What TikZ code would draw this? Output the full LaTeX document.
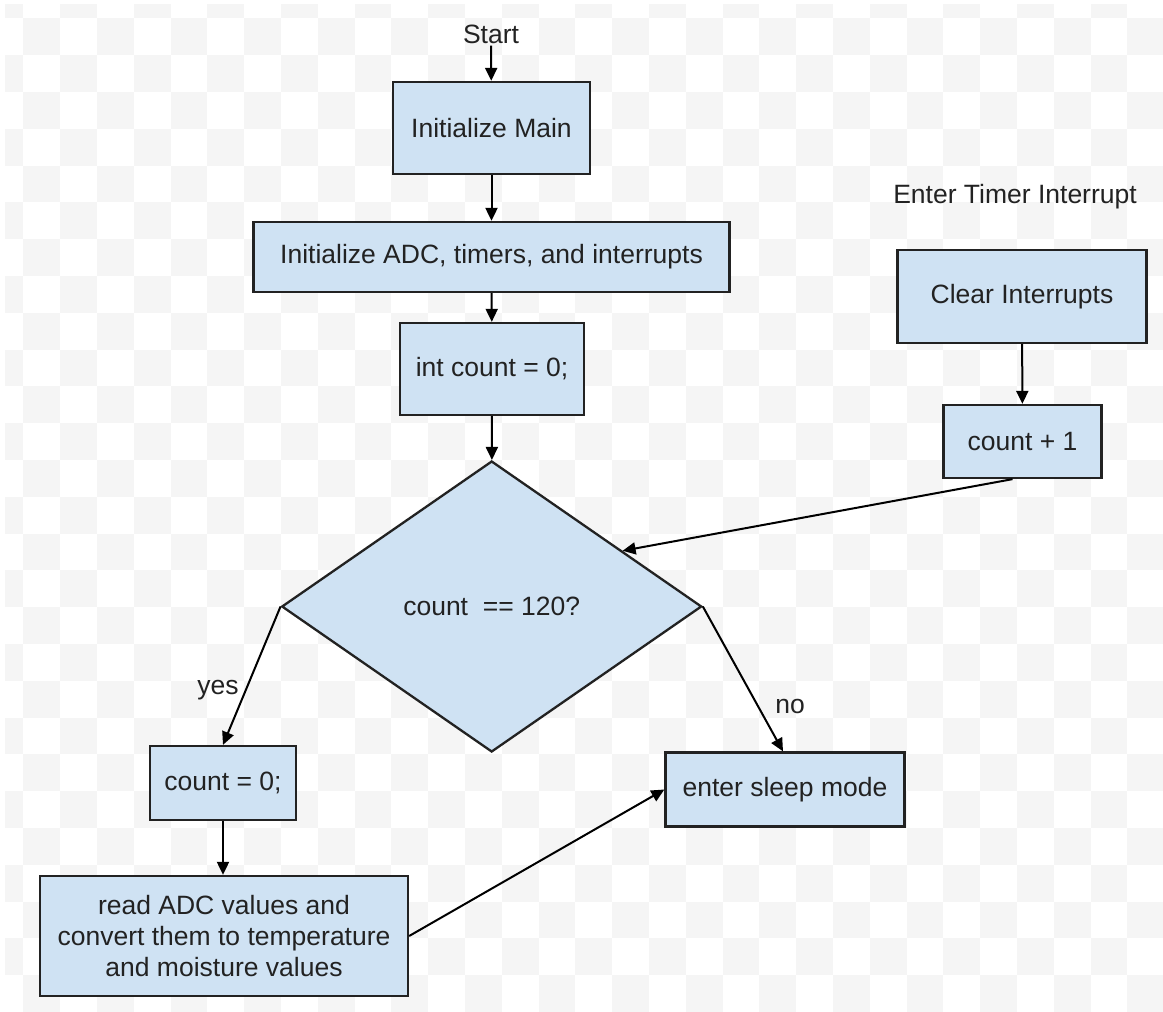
\documentclass[tikz,border=0pt]{standalone}
\usepackage{fontspec}
\setmainfont{Liberation Sans}
\usetikzlibrary{arrows.meta,shapes.geometric,calc}
\definecolor{boxfill}{HTML}{CFE2F3}
\definecolor{boxline}{HTML}{222222}
\definecolor{txt}{HTML}{222222}
\definecolor{checker}{HTML}{F5F5F5}
\tikzset{
  base/.style={font=\fontsize{26.5}{31}\selectfont, text=txt},
  procbox/.style={base, draw=boxline, fill=boxfill, line width=2.3pt, inner sep=0pt, align=center},
  decbox/.style={base, diamond, draw=boxline, fill=boxfill, line width=2.3pt, inner sep=0pt},
  lbl/.style={base, inner sep=2pt},
  flow/.style={draw=black, line width=2pt, -{Triangle[length=13pt,width=12pt]}},
}
\begin{document}
\begin{tikzpicture}[x=1pt,y=-1pt]
\useasboundingbox (0,0) rectangle (1163,1012);
\fill[white] (0,0) rectangle (1163,1012);
\begin{scope}
  \clip (5,4) rectangle (1163,1012);
  \foreach \c in {-1,...,31}{
    \foreach \r in {-1,...,26}{
      \pgfmathtruncatemacro\cpar{\c+\r+2}
      \ifodd\cpar\else
        \fill[checker] (23.3+36.8*\c,18.3+36.8*\r) rectangle (23.3+36.8*\c+36.8,18.3+36.8*\r+36.8);
      \fi
    }
  }
\end{scope}

\node[lbl] (start) at (491,34) {Start};
\node[procbox, minimum width=197pt, minimum height=92pt] (main) at (491.5,128) {Initialize Main};
\node[procbox, minimum width=476pt, minimum height=70pt] (adc) at (491.5,257) {Initialize ADC, timers, and interrupts};
\node[procbox, minimum width=184pt, minimum height=92pt] (init) at (492,369) {int count = 0;};
\node[decbox, minimum width=420pt, minimum height=291pt] (dec) at (491.7,606.5) {count\ \ == 120?};
\node[procbox, minimum width=146pt, minimum height=74pt] (c0) at (223,783) {count = 0;};
\node[procbox, minimum width=368pt, minimum height=120pt] (read) at (224,936) {read ADC values and\\convert them to temperature\\and moisture values};
\node[procbox, minimum width=239pt, minimum height=74pt] (sleep) at (785,789.5) {enter sleep mode};
\node[lbl] (timer) at (1015,197) {Enter Timer Interrupt};
\node[procbox, minimum width=249pt, minimum height=93pt] (clr) at (1022,296.5) {Clear Interrupts};
\node[procbox, minimum width=158pt, minimum height=73pt] (cp1) at (1022.5,441.5) {count + 1};

\coordinate (hit) at ($(dec.north)!0.62!(dec.east)$);

\draw[flow] (start) -- (main);
\draw[flow] (main) -- (adc);
\draw[flow] (adc) -- (init);
\draw[flow] (init) -- (dec);
\draw[flow] (clr) -- (cp1);
\draw[flow] ([xshift=-10pt]cp1.south) -- (hit);
\draw[flow] (dec.west) -- (c0.north);
\draw[flow] (dec.east) -- ([xshift=-2pt]sleep.north);
\draw[flow] (c0.south) -- (c0.south |- read.north);
\draw[flow] (read.east) -- (sleep.west);

\node[lbl] (yes) at (218,690) {yes};
\node[lbl] (no) at (790,706) {no};
\end{tikzpicture}
\end{document}
